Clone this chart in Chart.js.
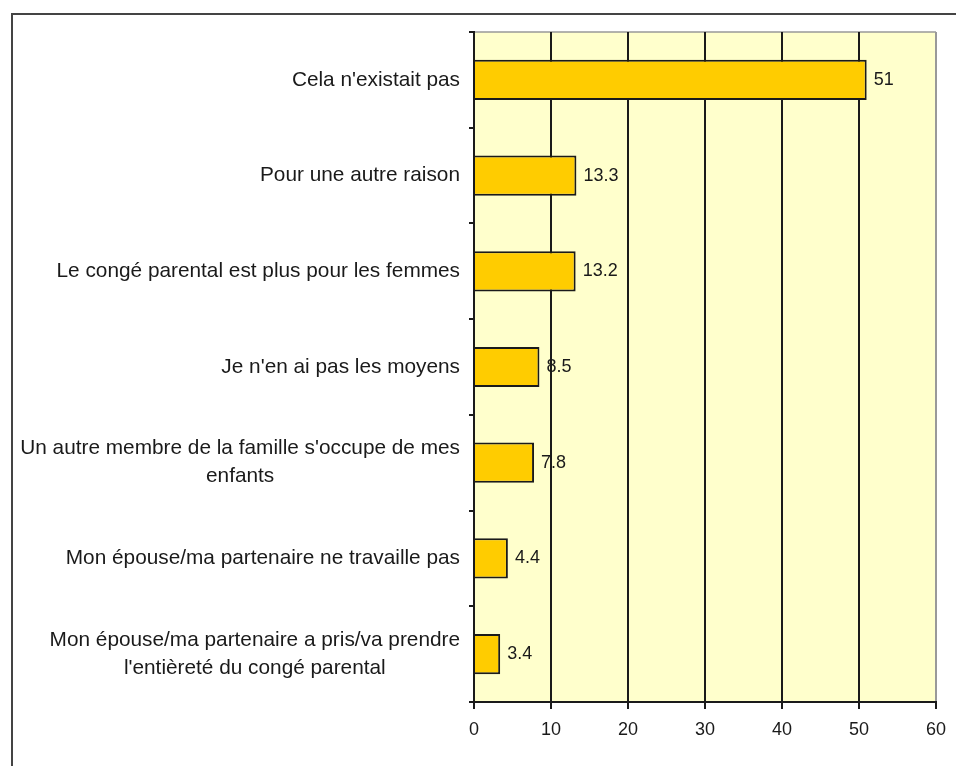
<!DOCTYPE html>
<html>
<head>
<meta charset="utf-8">
<script src="https://cdn.jsdelivr.net/npm/chart.js@4/dist/chart.umd.min.js"></script>
<style>
  html, body { margin: 0; padding: 0; background: #fff; }
  #wrap { position: relative; width: 956px; height: 766px; }
  #frame { position: absolute; left: 11px; top: 13px; right: -4px; bottom: -4px; border-top: 2px solid #444; border-left: 2px solid #444; }
  canvas { position: absolute; left: 0; top: 0; }
</style>
</head>
<body>
<div id="wrap">
  <div id="frame"></div>
  <canvas id="chart" width="956" height="766"></canvas>
</div>
<script>
const categories = [
  ['Cela n\'existait pas'],
  ['Pour une autre raison'],
  ['Le congé parental est plus pour les femmes'],
  ['Je n\'en ai pas les moyens'],
  ['Un autre membre de la famille s\'occupe de mes', 'enfants'],
  ['Mon épouse/ma partenaire ne travaille pas'],
  ['Mon épouse/ma partenaire a pris/va prendre', 'l\'entièreté du congé parental']
];
const values = [51, 13.3, 13.2, 8.5, 7.8, 4.4, 3.4];
const xTicks = [0, 10, 20, 30, 40, 50, 60];

const FONT = '"Liberation Sans", Arial, sans-serif';

// plot background, top border, category labels and value labels
const decor = {
  id: 'decor',
  beforeDraw(chart) {
    const { ctx, chartArea: a } = chart;
    ctx.save();
    ctx.fillStyle = '#FFFFCC';
    ctx.fillRect(a.left, a.top, a.right - a.left, a.bottom - a.top);
    ctx.strokeStyle = '#999';
    ctx.lineWidth = 1.5;
    ctx.beginPath();
    ctx.moveTo(a.left, a.top);
    ctx.lineTo(a.right, a.top);
    ctx.stroke();
    ctx.restore();
  },
  afterDraw(chart) {
    const { ctx } = chart;
    const x = chart.scales.x, y = chart.scales.y;
    ctx.save();
    ctx.fillStyle = '#1a1a1a';
    ctx.textBaseline = 'middle';
    ctx.textAlign = 'center';
    ctx.font = '20.8px ' + FONT;
    categories.forEach((lines, i) => {
      const cy = y.getPixelForValue(i);
      const w = Math.max(...lines.map(l => ctx.measureText(l).width));
      const cx = 460 - w / 2;
      lines.forEach((l, j) => {
        ctx.fillText(l, cx, cy + (j - (lines.length - 1) / 2) * 28);
      });
    });
    ctx.textAlign = 'left';
    ctx.font = '18px ' + FONT;
    values.forEach((v, i) => {
      ctx.fillText(String(v), x.getPixelForValue(v) + 7, y.getPixelForValue(i));
    });
    ctx.restore();
  }
};

new Chart(document.getElementById('chart'), {
  type: 'bar',
  data: {
    labels: categories,
    datasets: [{
      data: values,
      backgroundColor: '#FFCC00',
      borderColor: '#1a1a1a',
      borderWidth: 2,
      categoryPercentage: 1,
      barPercentage: 0.42
    }]
  },
  options: {
    indexAxis: 'y',
    responsive: false,
    animation: false,
    layout: { padding: { top: 32, right: 20, left: 0, bottom: 0 } },
    plugins: { legend: { display: false }, tooltip: { enabled: false } },
    scales: {
      x: {
        min: 0,
        max: 60,
        afterBuildTicks: s => { s.ticks = xTicks.map(v => ({ value: v })); },
        afterFit: s => { s.height = 64; },
        grid: {
          color: c => (c.tick && c.tick.value === 60 ? '#999' : '#1a1a1a'),
          lineWidth: 2,
          tickLength: 7,
          tickColor: '#1a1a1a'
        },
        border: { color: '#1a1a1a', width: 2 },
        ticks: { color: '#1a1a1a', font: { family: FONT, size: 18 }, padding: 10, maxRotation: 0 }
      },
      y: {
        afterFit: s => { s.width = 474; },
        grid: { offset: true, drawOnChartArea: false, tickLength: 5, color: '#1a1a1a', lineWidth: 2 },
        border: { color: '#1a1a1a', width: 2 },
        ticks: { display: false }
      }
    }
  },
  plugins: [decor]
});
</script>
</body>
</html>
